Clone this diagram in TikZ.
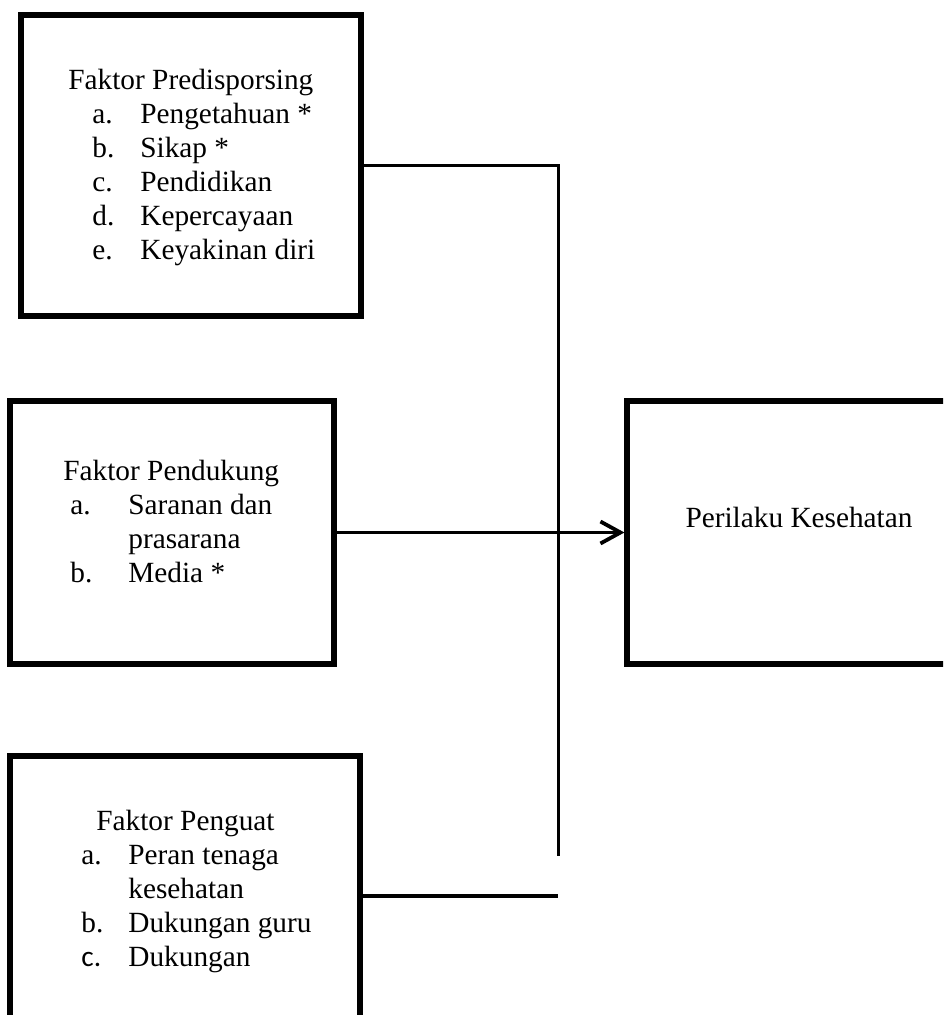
\documentclass[tikz,border=0pt]{standalone}
\usepackage{fontspec}
\setmainfont{Liberation Serif}
\newfontfamily\calibri{Carlito}
\usetikzlibrary{arrows.meta}

\begin{document}
\begin{tikzpicture}[
  x=0.5pt,y=-0.5pt,
  box/.style={draw,line width=2.6pt,inner sep=0pt},
  txt/.style={inner sep=0pt,font=\fontsize{14.65}{17}\selectfont},
  conn/.style={line width=1.9pt},
  arr/.style={conn,-{Straight Barb[length=10pt,width=11pt]}}
]
\useasboundingbox (0,0) rectangle (943,1015);
\clip (0,0) rectangle (943,1015);
% boxes
\node[box,minimum width=170pt,minimum height=150.5pt] (pred) at (191,165.5) {};
\node[box,minimum width=162pt,minimum height=131.5pt] (pend) at (172,532.5) {};
\node[box,minimum width=175pt,minimum height=140pt] (peng) at (185,896) {};
\node[box,minimum width=172pt,minimum height=131.5pt] (perilaku) at (799,532.5) {};
% texts
\node[txt,anchor=base west] (predtxt) at (68,90) {\begin{tabular}[t]{@{}l@{}}
  Faktor Predisporsing\\
  \hspace*{12pt}\makebox[24pt][l]{a.}Pengetahuan *\\
  \hspace*{12pt}\makebox[24pt][l]{b.}Sikap *\\
  \hspace*{12pt}\makebox[24pt][l]{c.}Pendidikan\\
  \hspace*{12pt}\makebox[24pt][l]{d.}Kepercayaan\\
  \hspace*{12pt}\makebox[24pt][l]{e.}Keyakinan diri
\end{tabular}};
\node[txt,anchor=base west] (pendtxt) at (63,480) {\begin{tabular}[t]{@{}l@{}}
  Faktor Pendukung\\
  \hspace*{3.5pt}\makebox[29pt][l]{a.}Saranan dan\\
  \hspace*{32.5pt}prasarana\\
  \hspace*{3.5pt}\makebox[29pt][l]{b.}Media *
\end{tabular}};
\node[txt,anchor=base west] (pengtxt) at (81,830) {\begin{tabular}[t]{@{}l@{}}
  \hspace*{7.5pt}Faktor Penguat\\
  \makebox[23.5pt][l]{a.}Peran tenaga\\
  \hspace*{23.5pt}kesehatan\\
  \makebox[23.5pt][l]{b.}Dukungan guru\\
  \makebox[23.5pt][l]{{\calibri c.}}Dukungan
\end{tabular}};
\node[txt,anchor=base] (perilakutxt) at (799,527) {Perilaku Kesehatan};
% connectors
\coordinate (vend) at (558,856);
\coordinate (hend) at (558,896);
\draw[conn,line width=1.5pt] (pred.east) -| (vend);
\draw[arr] (pend.east) -- (perilaku.west);
\draw[conn] (peng.east) -- (hend);
\end{tikzpicture}
\end{document}
